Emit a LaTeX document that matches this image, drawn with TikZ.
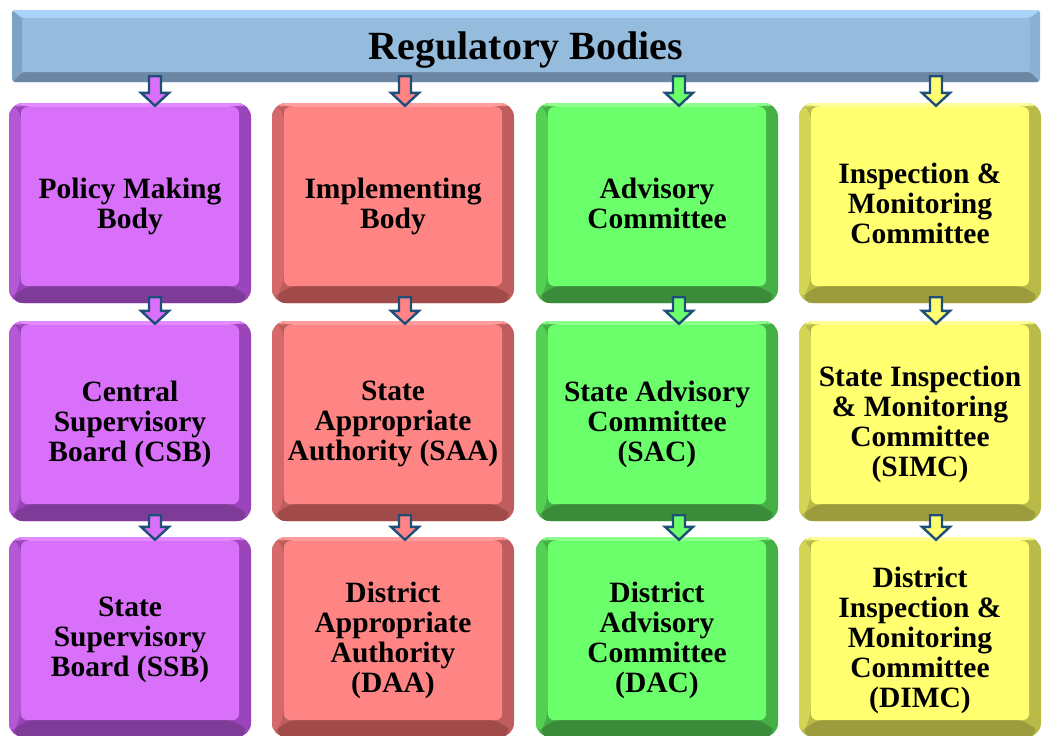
\documentclass[tikz,border=0pt]{standalone}
\usepackage{fontspec}
\setmainfont{Liberation Serif}
\usetikzlibrary{calc}
\definecolor{Tface}{HTML}{95BBDD}\definecolor{Ttop}{HTML}{A9D3F8}\definecolor{Tleft}{HTML}{7FA2C4}\definecolor{Tright}{HTML}{8AB0D4}\definecolor{Tbot}{HTML}{6B87A3}
\definecolor{Pface}{HTML}{D870FA}\definecolor{Ptop}{HTML}{E28AFF}\definecolor{Pleft}{HTML}{B458D6}\definecolor{Pright}{HTML}{9A45BA}\definecolor{Pbot}{HTML}{7E3C98}
\definecolor{Rface}{HTML}{FF8585}\definecolor{Rtop}{HTML}{FF9C9C}\definecolor{Rleft}{HTML}{D66A6A}\definecolor{Rright}{HTML}{BF5C5C}\definecolor{Rbot}{HTML}{A04A4A}
\definecolor{Gface}{HTML}{6CFF6C}\definecolor{Gtop}{HTML}{8CFF8C}\definecolor{Gleft}{HTML}{55D055}\definecolor{Gright}{HTML}{45B045}\definecolor{Gbot}{HTML}{3A8C3A}
\definecolor{Yface}{HTML}{FFFF70}\definecolor{Ytop}{HTML}{FFFF95}\definecolor{Yleft}{HTML}{D4D455}\definecolor{Yright}{HTML}{BABA48}\definecolor{Ybot}{HTML}{9C9C3C}
\definecolor{ArrowLine}{HTML}{1F4E79}
\tikzset{
  bevel/.style n args={5}{fill=#4, path picture={
    \coordinate (pnw) at (path picture bounding box.north west);
    \coordinate (pne) at (path picture bounding box.north east);
    \coordinate (psw) at (path picture bounding box.south west);
    \coordinate (pse) at (path picture bounding box.south east);
    \fill[#5] (psw) -- (pse) -- ([xshift=-12pt,yshift=17pt]pse) -- ([xshift=12pt,yshift=17pt]psw) -- cycle;
    \fill[#3] (pnw) -- ([xshift=12pt,yshift=-4pt]pnw) -- ([xshift=12pt,yshift=17pt]psw) -- (psw) -- cycle;
    \fill[#2] (pnw) -- (pne) -- ([xshift=-12pt,yshift=-4pt]pne) -- ([xshift=12pt,yshift=-4pt]pnw) -- cycle;
    \fill[#1, rounded corners=6pt] ([xshift=12pt,yshift=-4pt]pnw) rectangle ([xshift=-12pt,yshift=17pt]pse);
  }},
  titlebevel/.style={fill=Tright, path picture={
    \coordinate (pnw) at (path picture bounding box.north west);
    \coordinate (pne) at (path picture bounding box.north east);
    \coordinate (psw) at (path picture bounding box.south west);
    \coordinate (pse) at (path picture bounding box.south east);
    \fill[Tbot] (psw) -- (pse) -- ([xshift=-10pt,yshift=10pt]pse) -- ([xshift=10pt,yshift=10pt]psw) -- cycle;
    \fill[Tleft] (pnw) -- ([xshift=10pt,yshift=-8pt]pnw) -- ([xshift=10pt,yshift=10pt]psw) -- (psw) -- cycle;
    \fill[Ttop] (pnw) -- (pne) -- ([xshift=-10pt,yshift=-8pt]pne) -- ([xshift=10pt,yshift=-8pt]pnw) -- cycle;
    \fill[Tface] ([xshift=10pt,yshift=-8pt]pnw) rectangle ([xshift=-10pt,yshift=10pt]pse);
  }},
  box/.style={rounded corners=14pt, inner sep=0pt, minimum width=242pt, minimum height=200pt, align=center,
    text depth=0pt, font=\fontsize{29.5}{30}\selectfont\bfseries},
  purplebox/.style={box, bevel={Pface}{Ptop}{Pleft}{Pright}{Pbot}},
  redbox/.style={box, bevel={Rface}{Rtop}{Rleft}{Rright}{Rbot}},
  greenbox/.style={box, bevel={Gface}{Gtop}{Gleft}{Gright}{Gbot}},
  yellowbox/.style={box, bevel={Yface}{Ytop}{Yleft}{Yright}{Ybot}},
  titlebar/.style={rounded corners=3pt, inner sep=0pt, minimum width=1028pt, minimum height=72pt, titlebevel,
    text depth=0pt, font=\fontsize{40}{44}\selectfont\bfseries},
  arrowline/.style={draw=ArrowLine, line width=2.4pt, line join=miter}
}
\newcommand{\blkarrow}[4]{%
  \draw[arrowline, fill=#4] let \p1=([xshift=#3]#2.north), \p2=(#1.south) in
    (\x1-6pt,\y2+6pt) -- (\x1+6pt,\y2+6pt) -- (\x1+6pt,\y1+10pt) -- (\x1+14pt,\y1+10pt)
    -- (\x1,\y1-3pt) -- (\x1-14pt,\y1+10pt) -- (\x1-6pt,\y1+10pt) -- cycle;}
\begin{document}
\begin{tikzpicture}[x=1pt,y=-1pt]
\useasboundingbox (0,0) rectangle (1045,736);
\node[titlebar] (title) at (526,46) {Regulatory Bodies};
% column 1
\node[purplebox] (p1) at (130,203) {Policy Making\\Body};
\node[purplebox] (p2) at (130,421) {Central\\Supervisory\\Board (CSB)};
\node[purplebox] (p3) at (130,637) {State\\Supervisory\\Board (SSB)};
% column 2
\node[redbox] (r1) at (393,203) {Implementing\\Body};
\node[redbox] (r2) at (393,421) {State\\Appropriate\\Authority (SAA)};
\node[redbox] (r3) at (393,637) {District\\Appropriate\\Authority\\(DAA)};
% column 3
\node[greenbox] (g1) at (657,203) {Advisory\\Committee};
\node[greenbox] (g2) at (657,421) {State Advisory\\Committee\\(SAC)};
\node[greenbox] (g3) at (657,637) {District\\Advisory\\Committee\\(DAC)};
% column 4
\node[yellowbox] (y1) at (920,203) {Inspection \&\\Monitoring\\Committee};
\node[yellowbox] (y2) at (920,421) {State Inspection\\\& Monitoring\\Committee\\(SIMC)};
\node[yellowbox] (y3) at (920,637) {District\\Inspection \&\\Monitoring\\Committee\\(DIMC)};
% arrows
\blkarrow{title}{p1}{25pt}{Pface}
\blkarrow{p1}{p2}{25pt}{Pface}
\blkarrow{p2}{p3}{25pt}{Pface}
\blkarrow{title}{r1}{12pt}{Rface}
\blkarrow{r1}{r2}{12pt}{Rface}
\blkarrow{r2}{r3}{12pt}{Rface}
\blkarrow{title}{g1}{22pt}{Gface}
\blkarrow{g1}{g2}{22pt}{Gface}
\blkarrow{g2}{g3}{22pt}{Gface}
\blkarrow{title}{y1}{16pt}{Yface}
\blkarrow{y1}{y2}{16pt}{Yface}
\blkarrow{y2}{y3}{16pt}{Yface}
\end{tikzpicture}
\end{document}
